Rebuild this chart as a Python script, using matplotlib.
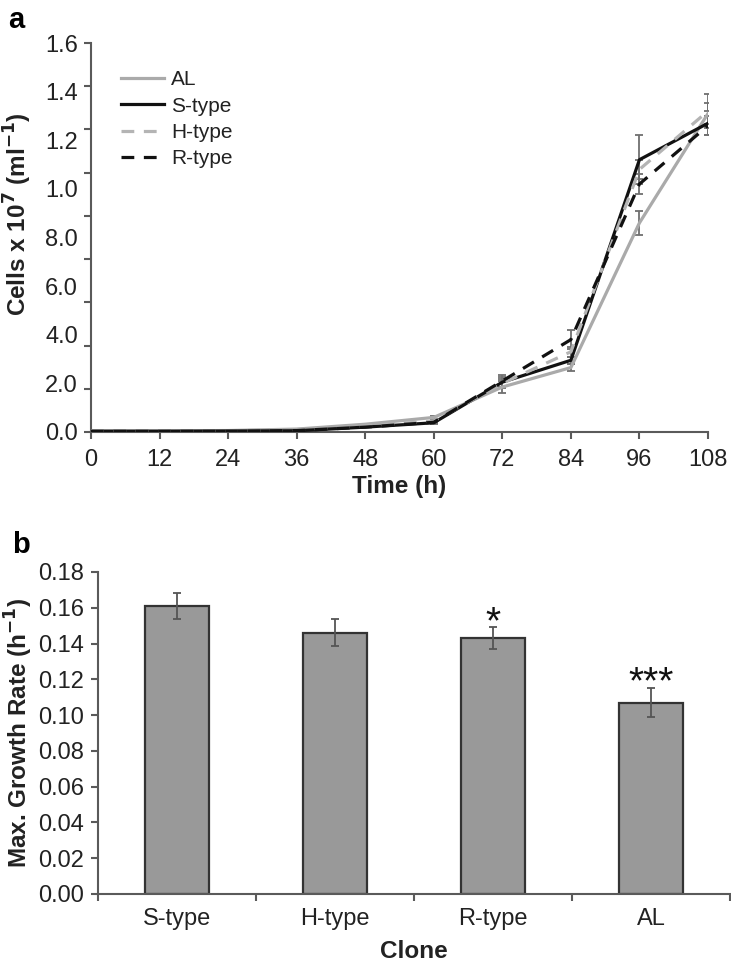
import numpy as np
import matplotlib
matplotlib.use("Agg")
import matplotlib.pyplot as plt

plt.rcParams['font.family'] = ['Liberation Sans', 'DejaVu Sans']

# ---- Panel a data ----
time_h = [0, 12, 24, 36, 48, 60, 72, 84, 96, 108]
al_vals = [0.05, 0.05, 0.06, 0.12, 0.32, 0.60, 1.85, 2.65, 8.6, 13.1]
s_vals = [0.03, 0.03, 0.04, 0.05, 0.20, 0.38, 2.05, 2.95, 11.2, 12.7]
h_vals = [0.04, 0.04, 0.05, 0.10, 0.25, 0.45, 2.00, 3.30, 10.8, 13.2]
r_vals = [0.03, 0.03, 0.04, 0.06, 0.20, 0.40, 2.10, 3.80, 10.2, 12.6]
al_err = [0, 0, 0, 0, 0, 0.05, 0.25, 0.15, 0.5, 0.45]
s_err = [0, 0, 0, 0, 0, 0.05, 0.20, 0.15, 1.0, 0.5]
h_err = [0, 0, 0, 0, 0, 0.05, 0.20, 0.20, 0.4, 0.7]
r_err = [0, 0, 0, 0, 0, 0.05, 0.25, 0.40, 0.4, 0.4]
y_tick_labels = ["0.0", "2.0", "4.0", "6.0", "8.0", "1.0", "1.2", "1.4", "1.6"]
x_ticks_a = [0, 12, 24, 36, 48, 60, 72, 84, 96, 108]

# ---- Panel b data ----
clones = ["S-type", "H-type", "R-type", "AL"]
rates = [0.161, 0.146, 0.143, 0.107]
rate_err = [0.007, 0.0075, 0.006, 0.008]
signif = ["", "", "*", "***"]
y_ticks_b = [0.00, 0.02, 0.04, 0.06, 0.08, 0.10, 0.12, 0.14, 0.16, 0.18]

W, H = 731, 965
fig = plt.figure(figsize=(W / 100, H / 100), dpi=100)

spine_col = "#5a5a5a"
txt_col = "#222222"
tick_fs = 17
lab_fs = 17.5

# ================= Panel a =================
ax = fig.add_axes([91 / W, 1 - 432 / H, 617 / W, 389 / H])
series = [
    ("AL", al_vals, al_err, "#aaaaaa", "-"),
    ("S-type", s_vals, s_err, "#111111", "-"),
    ("H-type", h_vals, h_err, "#b4b4b4", (0, (4, 3))),
    ("R-type", r_vals, r_err, "#111111", (0, (4, 3))),
]
for name, vals, err, col, ls in series:
    ax.plot(time_h, vals, color=col, linestyle=ls, lw=2.3, label=name, zorder=3)
    ax.errorbar(time_h, vals, yerr=err, fmt="none", ecolor="#707070",
                elinewidth=1.3, capsize=2.8, capthick=1.3, zorder=2)

ax.set_xlim(0, 108)
ax.set_ylim(0, 16)
ax.yaxis.remove_overlapping_locs = False
ax.set_xticks(x_ticks_a)
ax.set_xticklabels([str(t) for t in x_ticks_a], fontsize=tick_fs)
ax.set_yticks(np.linspace(0, 16, 10))
ax.set_yticklabels([])
ax.set_yticks(np.linspace(0, 16, len(y_tick_labels)), minor=True)
ax.set_yticklabels(y_tick_labels, minor=True, fontsize=tick_fs)
ax.tick_params(axis="both", which="major", direction="out", length=5,
               width=1.5, color=spine_col, labelcolor=txt_col)
ax.tick_params(axis="x", which="major", pad=7)
ax.tick_params(axis="y", which="minor", length=0, pad=9.5, labelcolor=txt_col)
for sp in ["top", "right"]:
    ax.spines[sp].set_visible(False)
for sp in ["left", "bottom"]:
    ax.spines[sp].set_color(spine_col)
    ax.spines[sp].set_linewidth(1.5)
ax.set_xlabel("Time (h)", fontsize=lab_fs, fontweight="bold", labelpad=3,
              color=txt_col)
ax.set_ylabel(r"Cells x 10$^{\mathbf{7}}$ (ml$^{\mathbf{-1}}$)", fontsize=lab_fs,
              fontweight="bold", color=txt_col)
ax.yaxis.set_label_coords(-0.092, 0.56)
leg = ax.legend(loc="upper left", bbox_to_anchor=(0.049, 0.93), frameon=False,
                fontsize=15, handlelength=2.05, handletextpad=0.35,
                labelspacing=0.35, borderaxespad=0, borderpad=0)
for t in leg.get_texts():
    t.set_color(txt_col)
fig.text(8 / W, 1 - 20 / H, "a", fontsize=21, fontweight="bold", va="center")

# ================= Panel b =================
bx = fig.add_axes([98 / W, 1 - 894 / H, 632 / W, 322 / H])
xpos = np.arange(len(clones))
bx.bar(xpos, rates, width=0.40, color="#999999", edgecolor="#333333",
       linewidth=1.6, zorder=2)
bx.errorbar(xpos, rates, yerr=rate_err, fmt="none", ecolor="#555555",
            elinewidth=1.3, capsize=2.8, capthick=1.3, zorder=3)
for x, v, e, s in zip(xpos, rates, rate_err, signif):
    if s:
        bx.text(x, v + e - 0.003, s, ha="center", va="baseline", fontsize=28,
                color="#111111")
bx.set_xlim(-0.5, 3.5)
bx.set_ylim(0, 0.18)
bx.xaxis.remove_overlapping_locs = False
bx.set_yticks(y_ticks_b)
bx.set_yticklabels([f"{t:.2f}" for t in y_ticks_b], fontsize=tick_fs)
bx.set_xticks(np.arange(-0.5, 4.0, 1.0))
bx.set_xticklabels([])
bx.set_xticks(xpos, minor=True)
bx.set_xticklabels(clones, minor=True, fontsize=tick_fs)
bx.tick_params(axis="x", which="minor", length=0, pad=10, labelcolor=txt_col)
bx.tick_params(axis="both", which="major", direction="out", length=5,
               width=1.5, color=spine_col, labelcolor=txt_col)
bx.tick_params(axis="y", which="major", pad=5)
for sp in ["top", "right"]:
    bx.spines[sp].set_visible(False)
for sp in ["left", "bottom"]:
    bx.spines[sp].set_color(spine_col)
    bx.spines[sp].set_linewidth(1.5)
bx.set_xlabel("Clone", fontsize=lab_fs, fontweight="bold", labelpad=7,
              color=txt_col)
bx.set_ylabel(r"Max. Growth Rate (h$^{\mathbf{-1}}$)", fontsize=lab_fs,
              fontweight="bold", color=txt_col)
bx.yaxis.set_label_coords(-0.1, 0.5)
fig.text(12 / W, 1 - 545 / H, "b", fontsize=21, fontweight="bold", va="center")

fig.savefig("out.png", dpi=100)
